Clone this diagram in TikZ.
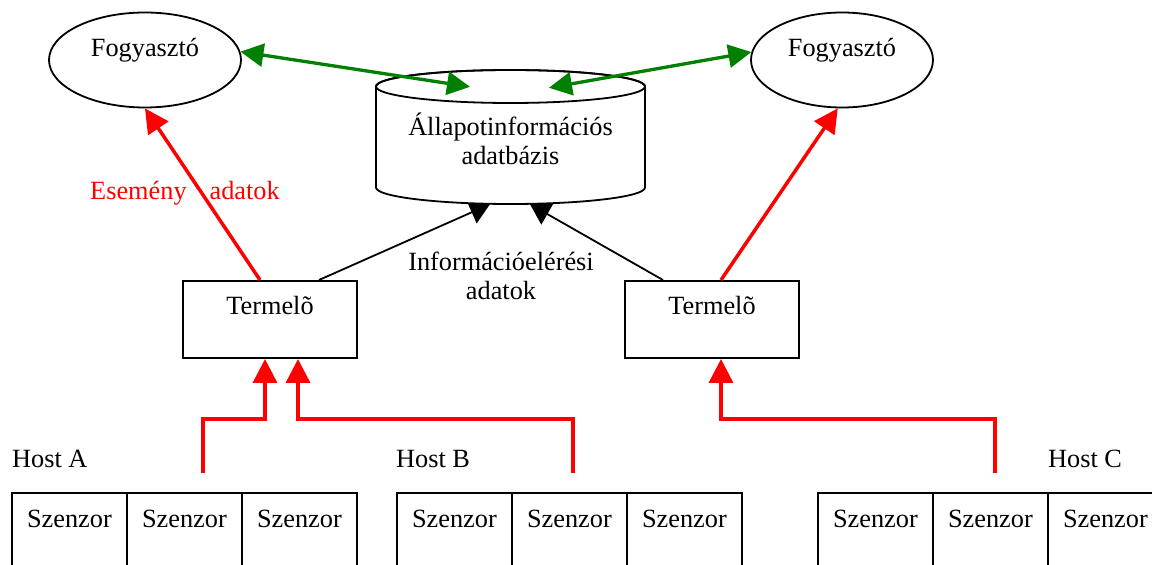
\documentclass[tikz,border=0pt]{standalone}
\usepackage{fontspec}
\setmainfont{Liberation Serif}
\usetikzlibrary{arrows.meta,calc,shapes.geometric}
\definecolor{gr}{RGB}{0,128,0}
\definecolor{rd}{RGB}{255,0,0}
\begin{document}
\begin{tikzpicture}[x=1pt,y=1pt,
  every node/.style={font=\fontsize{26.3}{29.5}\selectfont},
  cons/.style={ellipse, draw, line width=1.8pt, minimum width=192pt, minimum height=95pt, inner sep=0pt, text height=18pt, text depth=24pt},
  prodbox/.style={rectangle, draw, line width=2pt, minimum width=174pt, inner xsep=0pt, inner ysep=16pt, text height=18pt, text depth=27pt},
  sensorbox/.style={rectangle, draw, line width=1.8pt, minimum width=115pt, inner xsep=0pt, inner ysep=17pt, text height=18pt, text depth=60pt, anchor=north west},
  hostlabel/.style={anchor=base west, inner sep=0pt},
  redarr/.style={draw=rd, line width=3.5pt, -{Triangle[length=24pt,width=24pt]}},
  greenarr/.style={draw=gr, line width=3.3pt, {Triangle[length=23pt,width=23pt]}-{Triangle[length=23pt,width=23pt]}},
  blackarr/.style={draw=black, line width=1.8pt, -{Triangle[length=20pt,width=24pt]}},
  cyl/.style={line width=1.8pt}
]
\useasboundingbox (0,0) rectangle (1152,565);
\clip (0,0) rectangle (1152,565);

% consumers
\node[cons] (fl) at (145,505) {Fogyasztó};
\node[cons, minimum width=182pt] (fr) at (842,505) {Fogyasztó};
% database (frame only, drawn below)
\node[inner sep=0pt, minimum width=269pt, minimum height=134pt] (db) at (510.5,428) {};
% producers
\node[prodbox, anchor=base] (tl) at (270,250) {Termelõ};
\node[prodbox, anchor=base] (tr) at (712,250) {Termelõ};

% hosts
\node[hostlabel] (hA) at (12,97) {Host A};
\node[hostlabel] (hB) at (396,97) {Host B};
\node[hostlabel] (hC) at (1048,97) {Host C};

\node[sensorbox] (sA1) at (11,73) {Szenzor};
\node[sensorbox] (sA2) at (126,73) {Szenzor};
\node[sensorbox] (sA3) at (241,73) {Szenzor};
\node[sensorbox] (sB1) at (396,73) {Szenzor};
\node[sensorbox] (sB2) at (511,73) {Szenzor};
\node[sensorbox] (sB3) at (626,73) {Szenzor};
\node[sensorbox] (sC1) at (817,73) {Szenzor};
\node[sensorbox] (sC2) at (932,73) {Szenzor};
\node[sensorbox] (sC3) at (1047,73) {Szenzor};

% sensor data feeds
\coordinate (pA) at (203,92);
\coordinate (pB) at (573,92);
\coordinate (pC) at (995,92);
\draw[redarr] (pA) |- ($(tl.south)+(-5,-60)$) -- ($(tl.south)+(-5,0)$);
\draw[redarr] (pB) |- ($(tl.south)+(28,-60)$) -- ($(tl.south)+(28,0)$);
\draw[redarr] (pC) |- ($(tr.south)+(9,-60)$) -- ($(tr.south)+(9,0)$);

% event data
\draw[redarr] ($(tl.north)+(-10,0)$) -- (fl.south);
\draw[redarr] ($(tr.north)+(9,0)$) -- (fr.-95);
\node[anchor=base, text=rd, inner sep=0pt] (ev) at (185,365) {Esemény\hspace{23pt}adatok};

% information access data
\draw[blackarr] ($(tl.north)+(49,0)$) -- ($(db.south)+(-20.5,0)$);
\draw[blackarr] ($(tr.north)+(-49,0)$) -- ($(db.south)+(19.5,0)$);
\node[align=center, inner sep=0pt] (info) at (501,289) {Információelérési\\adatok};

% cylinder
\draw[cyl, fill=white] (376,478.5) -- (376,377.5)
  arc[start angle=180, end angle=360, x radius=134.5pt, y radius=16.5pt]
  -- (645,478.5)
  arc[start angle=0, end angle=180, x radius=134.5pt, y radius=16.5pt] -- cycle;
\draw[cyl] (510.5,478.5) ellipse [x radius=134.5pt, y radius=16.5pt];
\node[align=center, inner sep=0pt] (dbt) at ($(db.center)+(0,-2)$) {Állapotinformációs\\adatbázis};

% consumer <-> database
\draw[greenarr] (fl.5) -- ($(db.north)+(-40.5,-17)$);
\draw[greenarr] (fr.175) -- ($(db.north)+(38.5,-18)$);
\end{tikzpicture}
\end{document}
